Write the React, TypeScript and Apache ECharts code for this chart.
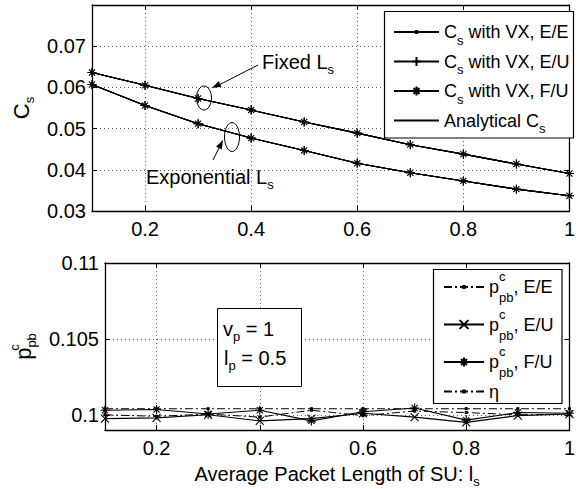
import React, { useEffect, useRef } from 'react';
import * as echarts from 'echarts';

const FONT = '"Liberation Sans", Arial, Helvetica, sans-serif';

// ---------- data ----------
const xValues = [0.1, 0.2, 0.3, 0.4, 0.5, 0.6, 0.7, 0.8, 0.9, 1.0];
const xTicks = [0.2, 0.4, 0.6, 0.8, 1];

// top panel: C_s
const fixedLs = [0.0636, 0.0605, 0.0573, 0.0545, 0.0516, 0.0489, 0.0461, 0.0438, 0.0414, 0.0391];
const expLs = [0.0607, 0.0556, 0.0512, 0.0477, 0.0447, 0.0416, 0.0393, 0.0373, 0.0353, 0.0337];
const topYTicks = [0.03, 0.04, 0.05, 0.06, 0.07];

// bottom panel: p^c_pb
const ppbEE = [0.1, 0.0999, 0.10005, 0.09985, 0.1003, 0.09995, 0.10025, 0.10015, 0.1, 0.10005];
const ppbEU = [0.09975, 0.0998, 0.1, 0.0996, 0.09975, 0.1001, 0.09985, 0.0995, 0.09995, 0.10005];
const ppbFU = [0.1003, 0.10035, 0.10005, 0.1003, 0.0996, 0.1002, 0.10045, 0.09965, 0.10015, 0.1001];
const etaVals = [0.1004, 0.1004, 0.1004, 0.1004, 0.1004, 0.1004, 0.1004, 0.1004, 0.1004, 0.1004];
const bottomYTicks = [0.1, 0.105, 0.11];

const topNames = ['Cs with VX, E/E', 'Cs with VX, E/U', 'Cs with VX, F/U', 'Analytical Cs'];
const topLegendText: Record<string, string> = {
  'Cs with VX, E/E': '{a|C}{s|s}{a| with VX, E/E}',
  'Cs with VX, E/U': '{a|C}{s|s}{a| with VX, E/U}',
  'Cs with VX, F/U': '{a|C}{s|s}{a| with VX, F/U}',
  'Analytical Cs': '{a|Analytical C}{s|s}',
};
const bottomNames = ['ppb E/E', 'ppb E/U', 'ppb F/U', 'eta'];
const bottomLegendText: Record<string, string> = {
  'ppb E/E': '{a|p}{c|c}{s|pb}{a|, E/E}',
  'ppb E/U': '{a|p}{c|c}{s|pb}{a|, E/U}',
  'ppb F/U': '{a|p}{c|c}{s|pb}{a|, F/U}',
  eta: '{e|η}',
};

// ---------- symbols ----------
const DOT = 'path://M0,0L0,0M10,10L10,10M4,4L6,4L6,6L4,6Z';
const PLUS = 'path://M5,0L5,10M0,5L10,5';
const STAR = 'path://M5,0L5,10M0,5L10,5M1.6,1.6L8.4,8.4M1.6,8.4L8.4,1.6';
const CROSS = 'path://M0,0L10,10M0,10L10,0';
const DASHDOT = [8, 3, 2, 3];

const richMain = (size: number, lh: number) => ({
  a: { fontSize: size, lineHeight: lh, fontFamily: FONT, color: '#000' },
  e: { fontSize: size, lineHeight: lh - 6, fontFamily: FONT, color: '#000' },
  s: { fontSize: 13, lineHeight: 13, verticalAlign: 'bottom', fontFamily: FONT, color: '#000' },
  c: { fontSize: 13, lineHeight: 13, verticalAlign: 'top', width: 0, fontFamily: FONT, color: '#000' },
});

function zipXY(ys: number[]) {
  return xValues.map((x, i) => [x, ys[i]]);
}

function axisBase(gridIndex: number, mirror: boolean) {
  return {
    type: 'value',
    gridIndex,
    axisLine: { show: true, onZero: false, lineStyle: { color: '#000', width: 1.3 } },
    axisTick: { show: true, inside: true, length: 5, lineStyle: { color: '#000', width: 1 } },
    axisLabel: mirror
      ? { show: false }
      : { show: true, color: '#000', fontSize: 20, fontFamily: FONT, margin: 6 },
    splitLine: mirror
      ? { show: false }
      : { show: true, lineStyle: { color: '#555', type: [1, 3], width: 1 } },
  };
}

function xAxisFor(gridIndex: number, mirror: boolean, extra: any = {}) {
  const b: any = axisBase(gridIndex, mirror);
  return {
    ...b,
    position: mirror ? 'top' : 'bottom',
    min: 0.1,
    max: 1,
    axisTick: { ...b.axisTick, customValues: xTicks },
    axisLabel: mirror ? b.axisLabel : { ...b.axisLabel, customValues: xTicks, margin: 8 },
    ...extra,
  };
}

function yAxisFor(gridIndex: number, mirror: boolean, ticks: number[], min: number, max: number, extra: any = {}) {
  const b: any = axisBase(gridIndex, mirror);
  return {
    ...b,
    position: mirror ? 'right' : 'left',
    min,
    max,
    axisTick: { ...b.axisTick, customValues: ticks },
    axisLabel: mirror ? b.axisLabel : { ...b.axisLabel, customValues: ticks },
    ...extra,
  };
}

function arrowHead(hx: number, hy: number, tx: number, ty: number) {
  const dx = hx - tx;
  const dy = hy - ty;
  const len = Math.sqrt(dx * dx + dy * dy);
  const ux = dx / len;
  const uy = dy / len;
  const bx = hx - ux * 9;
  const by = hy - uy * 9;
  const px = -uy * 3.2;
  const py = ux * 3.2;
  return [
    [hx, hy],
    [bx + px, by + py],
    [bx - px, by - py],
  ];
}

export default function App() {
  const ref = useRef<HTMLDivElement>(null);

  useEffect(() => {
    if (!ref.current) return;
    const chart = echarts.init(ref.current, null, { renderer: 'svg' });

    const lineBase = {
      type: 'line',
      color: '#000',
      lineStyle: { color: '#000', width: 1.1 },
      itemStyle: { color: '#000', borderColor: '#000', borderWidth: 1.1 },
      emphasis: { disabled: true },
      z: 3,
    };

    const topSeries: any[] = [];
    [fixedLs, expLs].forEach((ys) => {
      topSeries.push({
        ...lineBase, name: topNames[3], xAxisIndex: 0, yAxisIndex: 0, data: zipXY(ys),
        showSymbol: false, symbol: 'circle',
        itemStyle: { color: 'rgba(0,0,0,0)', borderColor: 'rgba(0,0,0,0)', borderWidth: 0 },
      });
      topSeries.push({ ...lineBase, name: topNames[0], xAxisIndex: 0, yAxisIndex: 0, data: zipXY(ys), symbol: DOT, symbolSize: 9 });
      topSeries.push({ ...lineBase, name: topNames[1], xAxisIndex: 0, yAxisIndex: 0, data: zipXY(ys), symbol: PLUS, symbolSize: 9 });
      topSeries.push({ ...lineBase, name: topNames[2], xAxisIndex: 0, yAxisIndex: 0, data: zipXY(ys), symbol: STAR, symbolSize: 9 });
    });

    const bottomSeries: any[] = [
      { ...lineBase, name: bottomNames[0], xAxisIndex: 2, yAxisIndex: 2, data: zipXY(ppbEE), symbol: DOT, symbolSize: 10, lineStyle: { color: '#000', width: 1, type: DASHDOT } },
      { ...lineBase, name: bottomNames[1], xAxisIndex: 2, yAxisIndex: 2, data: zipXY(ppbEU), symbol: CROSS, symbolSize: 8 },
      { ...lineBase, name: bottomNames[2], xAxisIndex: 2, yAxisIndex: 2, data: zipXY(ppbFU), symbol: STAR, symbolSize: 9 },
      { ...lineBase, name: bottomNames[3], xAxisIndex: 2, yAxisIndex: 2, data: zipXY(etaVals), symbol: DOT, symbolSize: 10, lineStyle: { color: '#000', width: 1, type: DASHDOT } },
    ];

    const option: any = {
      animation: false,
      backgroundColor: '#fff',
      textStyle: { fontFamily: FONT, color: '#000' },
      grid: [
        { left: 92, right: 5, top: 5, bottom: 278, show: false },
        { left: 92, right: 5, top: 263, bottom: 57, show: false },
      ],
      xAxis: [
        xAxisFor(0, false),
        xAxisFor(0, true),
        xAxisFor(1, false, {
          name: '{a|Average Packet Length of SU: l}{s|s}',
          nameLocation: 'middle',
          nameGap: 30,
          nameTextStyle: { rich: richMain(20, 28) },
        }),
        xAxisFor(1, true),
      ],
      yAxis: [
        yAxisFor(0, false, topYTicks, 0.03, 0.08, {
          name: '{a|C}{s|s}',
          nameLocation: 'middle',
          nameRotate: 90,
          nameGap: 54,
          nameTextStyle: { rich: richMain(22, 30) },
        }),
        yAxisFor(0, true, topYTicks, 0.03, 0.08),
        yAxisFor(1, false, bottomYTicks, 0.099, 0.11, {
          name: '{a|p}{c|c}{s|pb}',
          nameLocation: 'middle',
          nameRotate: 90,
          nameGap: 58,
          nameTextStyle: { rich: richMain(22, 30) },
        }),
        yAxisFor(1, true, bottomYTicks, 0.099, 0.11),
      ],
      legend: [
        {
          left: 393,
          top: 23,
          orient: 'vertical',
          data: topNames,
          itemWidth: 45,
          itemHeight: 11,
          itemGap: 6,
          padding: 0,
          selectedMode: false,
          formatter: (n: string) => topLegendText[n],
          textStyle: { rich: richMain(18, 29) },
          z: 10,
        },
        {
          left: 443,
          top: 270,
          orient: 'vertical',
          data: bottomNames,
          itemWidth: 40,
          itemHeight: 11,
          itemGap: 3.5,
          padding: 0,
          selectedMode: false,
          formatter: (n: string) => bottomLegendText[n],
          textStyle: { rich: richMain(18, 34) },
          z: 10,
        },
      ],
      graphic: [
        // legend frames
        { type: 'rect', shape: { x: 384.5, y: 11.5, width: 189, height: 126.5 }, style: { fill: '#fff', stroke: '#000', lineWidth: 1.2 }, z: 8 },
        { type: 'rect', shape: { x: 433.5, y: 269.5, width: 128.5, height: 134 }, style: { fill: '#fff', stroke: '#000', lineWidth: 1.2 }, z: 8 },
        // annotation ellipses
        { type: 'ellipse', shape: { cx: 204, cy: 98, rx: 7.5, ry: 12 }, style: { fill: 'none', stroke: '#000', lineWidth: 1 }, z: 20 },
        { type: 'ellipse', shape: { cx: 232, cy: 137, rx: 7.5, ry: 14.5 }, style: { fill: 'none', stroke: '#000', lineWidth: 1 }, z: 20 },
        // arrows
        { type: 'line', shape: { x1: 258, y1: 65, x2: 216, y2: 86.5 }, style: { stroke: '#000', lineWidth: 1 }, z: 20 },
        { type: 'polygon', shape: { points: arrowHead(212, 88, 258, 65) }, style: { fill: '#000' }, z: 20 },
        { type: 'line', shape: { x1: 213, y1: 160, x2: 221.5, y2: 143 }, style: { stroke: '#000', lineWidth: 1 }, z: 20 },
        { type: 'polygon', shape: { points: arrowHead(223, 140, 213, 160) }, style: { fill: '#000' }, z: 20 },
        // annotation texts
        {
          type: 'text', x: 262, y: 62, z: 20,
          style: { text: '{a|Fixed L}{s|s}', rich: richMain(20, 28), verticalAlign: 'middle', align: 'left' },
        },
        {
          type: 'text', x: 146, y: 177, z: 20,
          style: { text: '{a|Exponential L}{s|s}', rich: richMain(20, 28), verticalAlign: 'middle', align: 'left' },
        },
        // parameter box
        { type: 'rect', shape: { x: 217.5, y: 308.5, width: 84, height: 78 }, style: { fill: '#fff', stroke: '#000', lineWidth: 1 }, z: 20 },
        {
          type: 'text', x: 223, y: 329, z: 21,
          style: { text: '{a|v}{s|p}{a| = 1}', rich: richMain(20, 28), verticalAlign: 'middle', align: 'left' },
        },
        {
          type: 'text', x: 224, y: 358, z: 21,
          style: { text: '{a|l}{s|p}{a| = 0.5}', rich: richMain(20, 28), verticalAlign: 'middle', align: 'left' },
        },
      ],
      series: [...topSeries, ...bottomSeries],
    };

    chart.setOption(option);
    return () => chart.dispose();
  }, []);

  return (
    <div
      ref={ref}
      style={{ position: 'fixed', left: 0, top: 0, width: 578, height: 489, background: '#fff' }}
    />
  );
}
